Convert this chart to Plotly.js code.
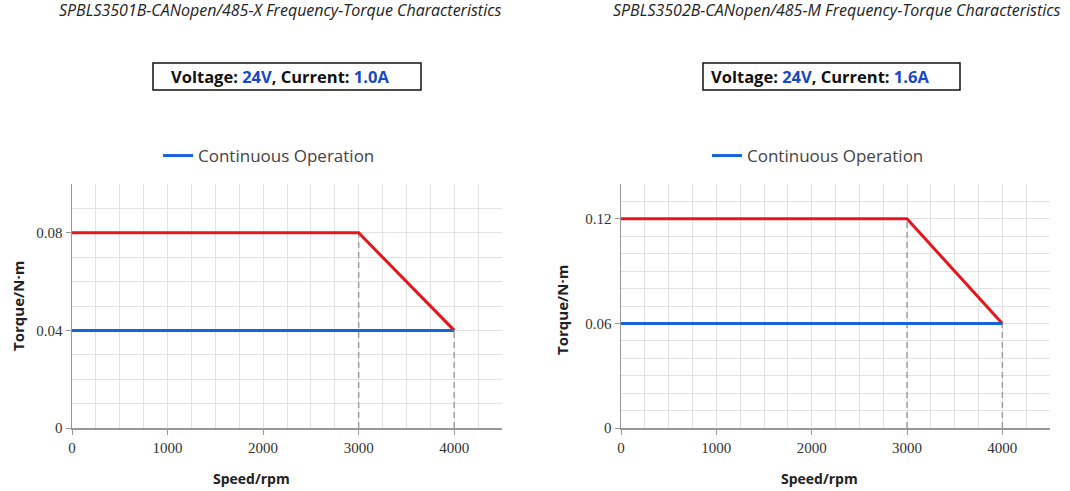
<!DOCTYPE html>
<html>
<head>
<meta charset="utf-8">
<script src="https://cdn.plot.ly/plotly-3.0.1.min.js"></script>
<style>
  html, body { margin: 0; padding: 0; background: #fff; }
  #chart { width: 1070px; height: 491px; }
</style>
</head>
<body>
<div id="chart"></div>
<script>
// Speed points (rpm) and torque values (N·m) for the two drives
const speedX = [0, 3000, 4000];
const peakX = [0.08, 0.08, 0.04];
const contSpeedX = [0, 4000];
const contX = [0.04, 0.04];

const speedM = [0, 3000, 4000];
const peakM = [0.12, 0.12, 0.06];
const contSpeedM = [0, 4000];
const contM = [0.06, 0.06];

const titles = [
  'SPBLS3501B-CANopen/485-X Frequency-Torque Characteristics',
  'SPBLS3502B-CANopen/485-M Frequency-Torque Characteristics'
];
const voltages = ['24V', '24V'];
const currents = ['1.0A', '1.6A'];

const RED = '#e8161c';
const BLUE = '#1763dc';
const DASH = '#a0a0a0';

// speeds where the dashed drop lines sit
const dropX = [3000, 4000];

function dropTraces(speeds, torques, xa, ya) {
  return dropX.map(function (sx) {
    const i = speeds.indexOf(sx);
    return {
      x: [sx, sx], y: [0, torques[i]], xaxis: xa, yaxis: ya,
      mode: 'lines', line: {color: DASH, width: 1.5, dash: '6px,4px'},
      showlegend: false, hoverinfo: 'skip'
    };
  });
}

const traces = [].concat(
  dropTraces(speedX, peakX, 'x', 'y'),
  [
    {x: speedX, y: peakX, xaxis: 'x', yaxis: 'y', mode: 'lines',
     line: {color: RED, width: 3}, showlegend: false, name: 'Peak'},
    {x: contSpeedX, y: contX, xaxis: 'x', yaxis: 'y', mode: 'lines',
     line: {color: BLUE, width: 3}, name: 'Continuous Operation', legend: 'legend'}
  ],
  dropTraces(speedM, peakM, 'x2', 'y2'),
  [
    {x: speedM, y: peakM, xaxis: 'x2', yaxis: 'y2', mode: 'lines',
     line: {color: RED, width: 3}, showlegend: false, name: 'Peak'},
    {x: contSpeedM, y: contM, xaxis: 'x2', yaxis: 'y2', mode: 'lines',
     line: {color: BLUE, width: 3}, name: 'Continuous Operation', legend: 'legend2'}
  ]
);

const W = 1070, H = 491;
const px = v => v / W;
const py = v => 1 - v / H;

const tickFont = {family: 'Liberation Serif, serif', size: 15, color: '#333'};
const gridCol = '#e2e2e2';

function xAxis(domain, anchor) {
  return {
    domain: domain, anchor: anchor, range: [0, 4500],
    tick0: 0, dtick: 1000, ticks: 'outside', ticklen: 5, tickcolor: '#999',
    showline: true, linecolor: '#999', linewidth: 1.5,
    showgrid: true, gridcolor: gridCol, gridwidth: 1,
    minor: {dtick: 250, showgrid: true, gridcolor: gridCol, gridwidth: 1},
    tickfont: tickFont, zeroline: false, fixedrange: true
  };
}
function yAxis(maxV, step, anchor) {
  return {
    domain: [1 - 428 / H, 1 - 184 / H], anchor: anchor, range: [0, maxV],
    tick0: 0, dtick: step, ticks: 'outside', ticklen: 5, tickcolor: '#999',
    showline: true, linecolor: '#999', linewidth: 1.5,
    showgrid: true, gridcolor: gridCol, gridwidth: 1,
    minor: {dtick: 0.01, showgrid: true, gridcolor: gridCol, gridwidth: 1},
    tickfont: tickFont, zeroline: false, fixedrange: true
  };
}

const sans = 'Open Sans, Noto Sans, sans-serif';

function infoText(v, c) {
  return '<b>Voltage: <span style="color:#1848c4">' + v + '</span>, Current: <span style="color:#1848c4">' + c + '</span></b>';
}

function note(text, x, y, extra) {
  return Object.assign({
    text: text, x: px(x), y: py(y), xref: 'paper', yref: 'paper',
    xanchor: 'center', yanchor: 'middle', showarrow: false
  }, extra || {});
}

const annotations = [
  note('<i>' + titles[0] + '</i>', 280, 10, {font: {family: sans, size: 16, color: '#222'}}),
  note('<i>' + titles[1] + '</i>', 836, 10, {font: {family: sans, size: 16, color: '#222'}}),
  note(infoText(voltages[0], currents[0]), 280, 76.5, {font: {family: sans, size: 16.5, color: '#111'}}),
  note(infoText(voltages[1], currents[1]), 820, 76.5, {font: {family: sans, size: 16.5, color: '#111'}}),
  note('<b>Torque/N·m</b>', 18, 306, {textangle: -90, font: {family: sans, size: 15, color: '#222'}}),
  note('<b>Torque/N·m</b>', 562, 310, {textangle: -90, font: {family: sans, size: 15, color: '#222'}}),
  note('<b>Speed/rpm</b>', 251, 478, {font: {family: sans, size: 14, color: '#222'}}),
  note('<b>Speed/rpm</b>', 819, 478, {font: {family: sans, size: 14, color: '#222'}})
];

// framed boxes around the voltage/current notes
function frame(x0, x1, y0, y1) {
  return {type: 'rect', xref: 'paper', yref: 'paper',
          x0: px(x0), x1: px(x1), y0: py(y1), y1: py(y0),
          line: {color: '#111', width: 1.5}, fillcolor: 'rgba(0,0,0,0)'};
}

const legendBase = {
  xref: 'paper', yref: 'paper', yanchor: 'middle', xanchor: 'left',
  bgcolor: 'rgba(0,0,0,0)', font: {family: sans, size: 17, color: '#444'},
  orientation: 'h'
};

const layout = {
  width: W, height: H,
  margin: {l: 0, r: 0, t: 0, b: 0},
  paper_bgcolor: '#fff', plot_bgcolor: '#fff',
  xaxis: xAxis([px(72), px(502)], 'y'),
  yaxis: yAxis(0.1, 0.04, 'x'),
  xaxis2: xAxis([px(621), px(1050)], 'y2'),
  yaxis2: yAxis(0.14, 0.06, 'x2'),
  legend: Object.assign({}, legendBase, {x: px(158), y: py(156)}),
  legend2: Object.assign({}, legendBase, {x: px(707), y: py(156)}),
  shapes: [frame(153, 421, 63, 90), frame(703, 960, 63, 90)],
  annotations: annotations
};

Plotly.newPlot('chart', traces, layout, {displayModeBar: false, staticPlot: true});
</script>
</body>
</html>
